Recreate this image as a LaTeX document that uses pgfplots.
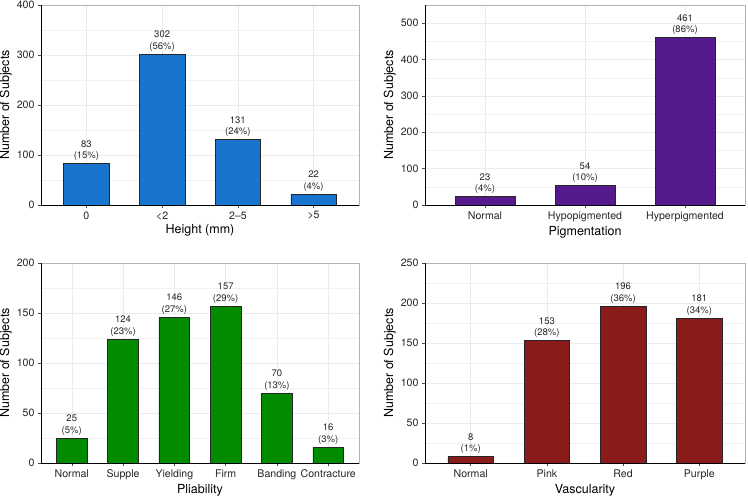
\documentclass[border=0pt]{standalone}
\usepackage{pgfplots}
\pgfplotsset{compat=1.18}
\usepackage{pgfplotstable}
\usepackage{fontspec}
\setmainfont{TeX Gyre Heros}
\definecolor{cblue}{RGB}{24,116,205}
\definecolor{cpurple}{RGB}{85,26,139}
\definecolor{cgreen}{RGB}{0,139,0}
\definecolor{cred}{RGB}{139,26,26}
\definecolor{gridc}{RGB}{235,235,235}

\pgfplotstableread{
x y p
0 83 15
1 302 56
2 131 24
3 22 4
}\tabA
\pgfplotstableread{
x y p
0 23 4
1 54 10
2 461 86
}\tabB
\pgfplotstableread{
x y p
0 25 5
1 124 23
2 146 27
3 157 29
4 70 13
5 16 3
}\tabC
\pgfplotstableread{
x y p
0 8 1
1 153 28
2 196 36
3 181 34
}\tabD

\pgfplotsset{
  panel/.style={
    scale only axis, width=318pt, height=200pt, anchor=south west,
    /pgf/number format/assume math mode=true,
    ybar, bar width=0.6, ymin=0,
    xtick=data, xmin=-0.6,
    tick label style={font=\fontsize{10.6}{12}\selectfont, text=black!85},
    label style={font=\fontsize{12.5}{14}\selectfont},
    ylabel={Number of Subjects},
    axis line style={gray!60, line width=0.5pt},
    tick style={black!70, line width=0.5pt},
    tick align=outside, major tick length=3pt, minor tick length=0pt,
    xtick pos=bottom, ytick pos=left,
    ymajorgrids, yminorgrids, xmajorgrids,
    major grid style={gridc, line width=0.5pt},
    minor grid style={gridc!70, line width=0.4pt},
    minor y tick num=1,
    ylabel style={yshift=-2pt},
    xlabel style={yshift=2pt},
    nodes near coords={\pgfmathprintnumber{\pgfplotspointmeta}\\(\pgfmathprintnumber[fixed,precision=0]{\perc}\%)},
    every node near coord/.append style={align=center, font=\fontsize{9.5}{11.5}\selectfont, text=black!85, inner sep=1pt, yshift=1.5pt},
    point meta=y,
    visualization depends on={\thisrow{p} \as \perc},
    after end axis/.code={
      \draw[black, line width=0.6pt] (rel axis cs:0,1) -- (rel axis cs:0,0) -- (rel axis cs:1,0);
    },
  },
  barsty/.style={draw=black!85, line width=0.6pt, fill=#1},
}

\begin{document}
\begin{tikzpicture}
\useasboundingbox (0pt,0pt) rectangle (748pt,-498pt);

\begin{axis}[panel, at={(41pt,-205pt)}, xmax=3.6, ymax=400, ytick={0,100,200,300,400},
  xticklabels={0,<2,2–5,>5}, xlabel={Height (mm)}]
\addplot[barsty=cblue] table[x=x,y=y] {\tabA};
\end{axis}

\begin{axis}[panel, at={(425pt,-205pt)}, width=320pt, xmax=2.6, ymax=550, ytick={0,100,200,300,400,500},
  xticklabels={Normal,Hypopigmented,Hyperpigmented}, xlabel={Pigmentation}]
\addplot[barsty=cpurple] table[x=x,y=y] {\tabB};
\end{axis}

\begin{axis}[panel, at={(41pt,-463pt)}, xmax=5.6, ymax=200, ytick={0,50,100,150,200},
  xticklabels={Normal,Supple,Yielding,Firm,Banding,Contracture}, xlabel={Pliability}]
\addplot[barsty=cgreen] table[x=x,y=y] {\tabC};
\end{axis}

\begin{axis}[panel, at={(425pt,-463pt)}, width=320pt, xmax=3.6, ymax=250, ytick={0,50,100,150,200,250},
  xticklabels={Normal,Pink,Red,Purple}, xlabel={Vascularity}]
\addplot[barsty=cred] table[x=x,y=y] {\tabD};
\end{axis}
\end{tikzpicture}
\end{document}
